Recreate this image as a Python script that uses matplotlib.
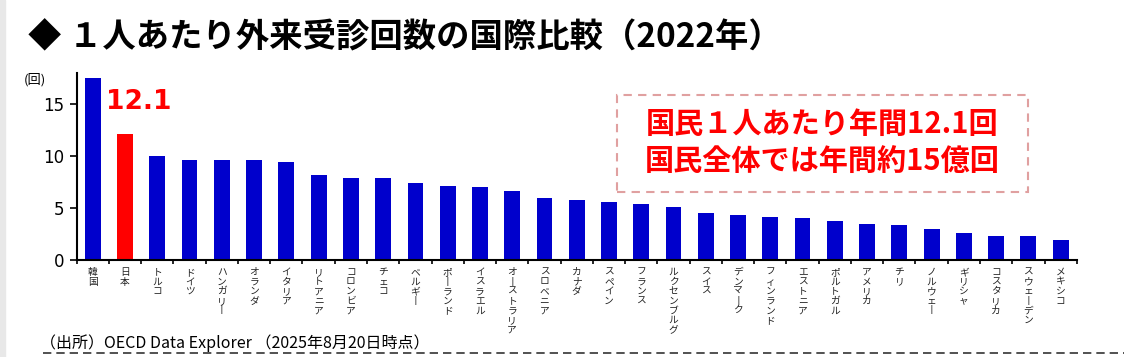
"""OECD comparison of outpatient visits per person (2022)."""
import matplotlib
matplotlib.use('Agg')
import matplotlib.pyplot as plt
from matplotlib.patches import Rectangle
from matplotlib.ticker import FixedLocator

plt.rcParams['font.family'] = ['Noto Sans CJK JP', 'DejaVu Sans']

countries = ['韓国', '日本', 'トルコ', 'ドイツ', 'ハンガリー', 'オランダ', 'イタリア', 'リトアニア',
             'コロンビア', 'チェコ', 'ベルギー', 'ポーランド', 'イスラエル', 'オーストラリア', 'スロベニア',
             'カナダ', 'スペイン', 'フランス', 'ルクセンブルグ', 'スイス', 'デンマーク', 'フィンランド',
             'エストニア', 'ポルトガル', 'アメリカ', 'チリ', 'ノルウェー', 'ギリシャ', 'コスタリカ',
             'スウェーデン', 'メキシコ']
visits = [17.5, 12.1, 10.0, 9.6, 9.6, 9.6, 9.4, 8.2, 7.9, 7.9, 7.4, 7.1, 7.0, 6.6, 6.0,
          5.8, 5.6, 5.4, 5.1, 4.5, 4.3, 4.1, 4.0, 3.8, 3.5, 3.4, 3.0, 2.6, 2.3, 2.3, 1.9]
highlight = '日本'
yticks = [0, 5, 10, 15]

title = '◆ １人あたり外来受診回数の国際比較（2022年）'
note_lines = ['国民１人あたり年間12.1回', '国民全体では年間約15億回']
source = '（出所）OECD Data Explorer （2025年8月20日時点）'


def vertical(name):
    # stack characters top to bottom, long vowel drawn as a vertical bar
    return '\n'.join('丨' if c == 'ー' else c for c in name)


fig = plt.figure(figsize=(11.24, 3.57), dpi=100)
ax = fig.add_axes([0.0682, 0.2717, 0.8898, 0.5238])

colors = ['#ff0000' if c == highlight else '#0000cc' for c in countries]
x = list(range(len(countries)))
ax.bar(x, visits, width=0.49, color=colors)

ax.set_xlim(-0.5, len(countries) - 0.5)
ax.set_ylim(0, 18)
ax.set_yticks(yticks)
ax.set_yticklabels([str(t) for t in yticks], fontsize=12, family='DejaVu Sans')
ax.tick_params(axis='y', direction='out', length=5, width=1.2, pad=4)

ax.set_xticks(x)
ax.set_xticklabels([vertical(c) for c in countries], fontsize=7, linespacing=0.95,
                   va='top', color='#222222')
ax.tick_params(axis='x', which='major', length=0, pad=5)
ax.xaxis.set_minor_locator(FixedLocator([i + 0.5 for i in range(-1, len(countries))]))
ax.tick_params(axis='x', which='minor', direction='out', length=3, width=1.2)

for s in ['top', 'right']:
    ax.spines[s].set_visible(False)
ax.spines['left'].set_linewidth(1.5)
ax.spines['bottom'].set_linewidth(1.5)

fig.text(24 / 1124, 1 - 80 / 357, '(回)', fontsize=9.5, ha='left', va='center')

jp = countries.index(highlight)
ax.text(jp - 0.6, visits[jp] + 3.1, f'{visits[jp]:.1f}', color='#ff0000', fontsize=19,
        fontweight='bold', family='DejaVu Sans', ha='left', va='center')

# dashed note box
fig.patches.append(Rectangle((617 / 1124, 1 - 192 / 357), 411 / 1124, 97 / 357,
                             transform=fig.transFigure, fill=False, edgecolor='#e0a0a0',
                             linestyle=(0, (4, 3)), linewidth=1.5))
fig.text(822 / 1124, 1 - 124 / 357, note_lines[0], color='#ff0000', fontsize=21,
         fontweight='bold', ha='center', va='center')
fig.text(822 / 1124, 1 - 161 / 357, note_lines[1], color='#ff0000', fontsize=21,
         fontweight='bold', ha='center', va='center')

fig.text(28 / 1124, 1 - 38 / 357, title, fontsize=24, fontweight='bold', ha='left', va='center')
fig.text(40 / 1124, 1 - 343 / 357, source, fontsize=11.5, ha='left', va='center')
fig.lines.append(plt.Line2D([43 / 1124, 1.0], [1 - 353 / 357] * 2, transform=fig.transFigure,
                            color='#333333', linestyle=(0, (5, 3)), linewidth=1.2))
fig.patches.append(Rectangle((0, 0), 5 / 1124, 1, transform=fig.transFigure,
                             color='#e8e8e8', zorder=0))

fig.savefig('out.png', dpi=100)
